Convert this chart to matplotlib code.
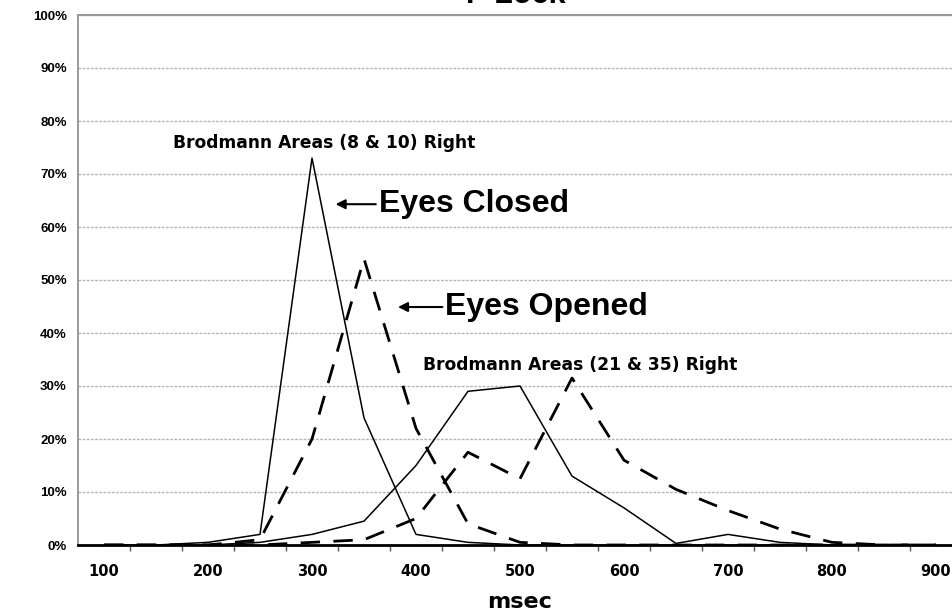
import matplotlib
matplotlib.use('Agg')
import matplotlib.pyplot as plt

# latency bins (msec) and percentage of peaks in each bin
msec = [100, 150, 200, 250, 300, 350, 400, 450, 500, 550, 600, 650, 700, 750, 800, 850, 900]
ba8_closed = [0, 0, 0.5, 2, 73, 24, 2, 0.5, 0, 0, 0, 0, 0, 0, 0, 0, 0]
ba8_opened = [0, 0, 0, 1, 20, 54, 22, 4, 0.5, 0, 0, 0, 0, 0, 0, 0, 0]
ba21_closed = [0, 0, 0, 0.5, 2, 4.5, 15, 29, 30, 13, 7, 0.3, 2, 0.5, 0, 0, 0]
ba21_opened = [0, 0, 0, 0, 0.5, 1, 5, 17.5, 12.5, 31.5, 16, 10.5, 6.5, 3, 0.5, 0, 0]
xlabels = [100, 200, 300, 400, 500, 600, 700, 800, 900]
ylabels = ['0%', '10%', '20%', '30%', '40%', '50%', '60%', '70%', '80%', '90%', '100%']

fam = ['Liberation Sans', 'DejaVu Sans']
wide = ['DejaVu Sans']
plt.rcParams['font.family'] = fam
plt.rcParams['font.weight'] = 'bold'

fig = plt.figure(figsize=(9.52, 6.15), dpi=100)
ax = fig.add_axes([78/952, 70/615, 884/952, 530/615])

dash = (0, (7, 4.8))
ax.plot(msec, ba8_closed, color='black', lw=1.1, zorder=3)
ax.plot(msec, ba8_opened, color='black', lw=2.0, linestyle=dash, zorder=3)
ax.plot(msec, ba21_closed, color='black', lw=1.1, zorder=3)
ax.plot(msec, ba21_opened, color='black', lw=2.0, linestyle=dash, zorder=3)

ax.set_xlim(75, 925)
ax.set_ylim(0, 100)
ax.set_yticks(range(0, 101, 10))
ax.set_yticklabels(ylabels, fontsize=9.5, fontweight='bold')
ax.set_xticks(xlabels)
ax.set_xticklabels([str(v) for v in xlabels], fontsize=10.5, fontweight='bold', family=wide)
ax.set_xticks([m + 25 for m in msec[:-1]], minor=True)
ax.tick_params(axis='x', which='major', length=0, pad=14)
ax.tick_params(axis='x', which='minor', length=4, width=1, color='#555555')
ax.tick_params(axis='y', length=0, pad=8)

ax.grid(axis='y', color='#b5b5b5', lw=1.0, linestyle=(0, (2, 1)), zorder=0)
ax.spines['right'].set_visible(False)
ax.spines['left'].set_color('#888888')
ax.spines['left'].set_linewidth(1.2)
ax.spines['top'].set_color('#999999')
ax.spines['top'].set_linewidth(1.5)
ax.spines['bottom'].set_color('black')
ax.spines['bottom'].set_linewidth(2.0)

ax.set_xlabel('msec', fontsize=16, fontweight='bold', family=wide, labelpad=9)
fig.text(516/952, 1 + 5/615, 'P Lock', ha='center', va='center', fontsize=22, fontweight='bold')

ax.text(166, 75.8, 'Brodmann Areas (8 & 10) Right', fontsize=12.3, fontweight='bold',
        family=wide, va='center')
ax.text(407, 34, 'Brodmann Areas (21 & 35) Right', fontsize=12.3, fontweight='bold',
        family=wide, va='center')

ax.annotate('', xy=(320, 64.3), xytext=(364, 64.3),
            arrowprops=dict(arrowstyle='-|>', color='black', lw=1.5, mutation_scale=14))
ax.text(364, 64.3, 'Eyes Closed', fontsize=23, fontweight='bold', va='center')
ax.annotate('', xy=(380, 44.9), xytext=(428, 44.9),
            arrowprops=dict(arrowstyle='-|>', color='black', lw=1.5, mutation_scale=14))
ax.text(428, 44.9, 'Eyes Opened', fontsize=23, fontweight='bold', va='center')

fig.savefig('out.png', dpi=100)
